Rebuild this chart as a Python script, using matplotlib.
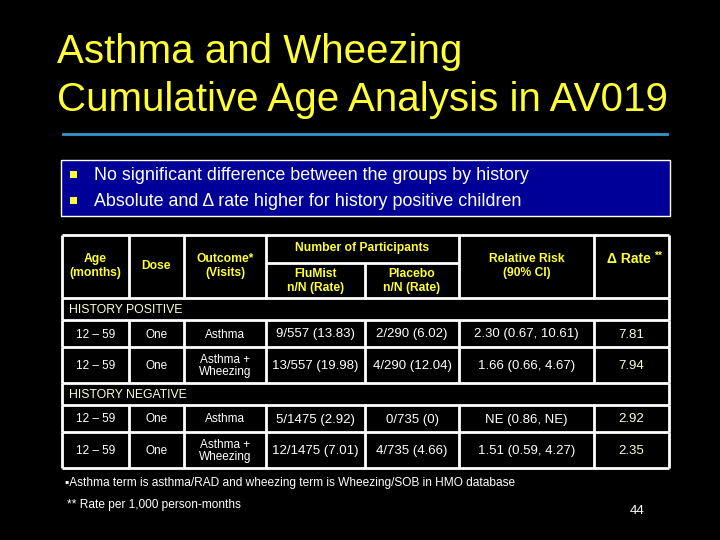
import matplotlib.pyplot as plt
from matplotlib.patches import Rectangle

plt.rcParams['font.family'] = ['Liberation Sans', 'DejaVu Sans']

title_lines = ["Asthma and Wheezing", "Cumulative Age Analysis in AV019"]
bullets = ["No significant difference between the groups by history",
           "Absolute and \u0394 rate higher for history positive children"]

groups = ["HISTORY POSITIVE", "HISTORY NEGATIVE"]
age = ["12 \u2013 59", "12 \u2013 59", "12 \u2013 59", "12 \u2013 59"]
dose = ["One", "One", "One", "One"]
outcome = ["Asthma", "Asthma +\nWheezing", "Asthma", "Asthma +\nWheezing"]
flumist = ["9/557 (13.83)", "13/557 (19.98)", "5/1475 (2.92)", "12/1475 (7.01)"]
placebo = ["2/290 (6.02)", "4/290 (12.04)", "0/735 (0)", "4/735 (4.66)"]
rel_risk = ["2.30 (0.67, 10.61)", "1.66 (0.66, 4.67)", "NE (0.86, NE)", "1.51 (0.59, 4.27)"]
delta_rate = ["7.81", "7.94", "2.92", "2.35"]

footnotes = ["\u25aaAsthma term is asthma/RAD and wheezing term is Wheezing/SOB in HMO database",
             "** Rate per 1,000 person-months"]
page_no = "44"

YEL = "#ffff33"
PALE = "#ffffcc"

fig = plt.figure(figsize=(7.2, 5.4), dpi=100, facecolor="black")
ax = fig.add_axes([0, 0, 1, 1])
ax.set_xlim(0, 720)
ax.set_ylim(540, 0)
ax.axis("off")
ax.set_facecolor("black")

# title
ax.text(57, 52, title_lines[0], color=YEL, fontsize=29, va="center", ha="left")
ax.text(57, 100, title_lines[1], color=YEL, fontsize=29, va="center", ha="left")
ax.plot([63, 667], [134, 134], color="#3399cc", lw=2)

# bullet box
ax.add_patch(Rectangle((61, 160), 609, 56, facecolor="#000099", edgecolor="white", lw=1))
for i, b in enumerate(bullets):
    y = 175 + i * 26
    ax.add_patch(Rectangle((70, y - 4), 7, 7, facecolor=YEL, edgecolor="none"))
    ax.text(94, y, b, color="white", fontsize=12.9, va="center", ha="left")

# table layout
cols = [62, 129, 184, 266, 365, 459, 594, 669]
top, sub, hdr = 235, 263, 298
rows = [(320, 347), (347, 383), (405, 432), (432, 468)]
group_rows = [(298, 320), (383, 405)]
lw = 2

def hline(y, x0=cols[0], x1=cols[-1]):
    ax.plot([x0, x1], [y, y], color="white", lw=lw, solid_capstyle="butt")

def vline(x, y0, y1):
    ax.plot([x, x], [y0, y1], color="white", lw=lw, solid_capstyle="butt")

hline(top)
hline(hdr)
hline(sub, cols[3], cols[5])
for x in cols:
    vline(x, sub if x == cols[4] else top, hdr)
for g0, g1 in group_rows:
    hline(g1)
    vline(cols[0], g0, g1)
    vline(cols[-1], g0, g1)
for r0, r1 in rows:
    hline(r1)
    for x in cols:
        vline(x, r0, r1)

def mid(i):
    return (cols[i] + cols[i + 1]) / 2

hkw = dict(color=YEL, fontsize=8.7, fontweight="bold", ha="center", va="center", linespacing=1.25)
ax.text(mid(0), 266, "Age\n(months)", **hkw)
ax.text(mid(1), 266, "Dose", **hkw)
ax.text(mid(2), 266, "Outcome*\n(Visits)", **hkw)
ax.text((cols[3] + cols[5]) / 2, 248, "Number of Participants", **hkw)
ax.text(mid(3), 281, "FluMist\nn/N (Rate)", **hkw)
ax.text(mid(4), 281, "Placebo\nn/N (Rate)", **hkw)
ax.text(mid(5), 266, "Relative Risk\n(90% CI)", **hkw)
ax.text(mid(6) - 3, 259, "\u0394 Rate", color=YEL, fontsize=10, fontweight="bold", ha="center", va="center")
ax.text(mid(6) + 27, 256, "**", color=YEL, fontsize=7.5, fontweight="bold", ha="center", va="center")

for (g0, g1), g in zip(group_rows, groups):
    ax.text(cols[0] + 7, (g0 + g1) / 2 + 1, g, color=PALE, fontsize=8.8, ha="left", va="center")

bkw = dict(color="white", ha="center", va="center", linespacing=1.1)
for i, (r0, r1) in enumerate(rows):
    y = (r0 + r1) / 2 + 1
    ax.text(mid(0), y, age[i], fontsize=8.5, **bkw)
    ax.text(mid(1), y, dose[i], fontsize=8.5, **bkw)
    ax.text(mid(2), y, outcome[i], fontsize=8.5, **bkw)
    ax.text(mid(3), y, flumist[i], fontsize=9.5, **bkw)
    ax.text(mid(4), y, placebo[i], fontsize=9.5, **bkw)
    ax.text(mid(5), y, rel_risk[i], fontsize=9.5, **bkw)
    ax.text(mid(6), y, delta_rate[i], fontsize=9.5, color=PALE, ha="center", va="center")

ax.text(65, 483, footnotes[0], color="white", fontsize=8.6, ha="left", va="center")
ax.text(67, 505, footnotes[1], color="white", fontsize=8.6, ha="left", va="center")
ax.text(637, 511, page_no, color="white", fontsize=9.5, ha="center", va="center")

fig.savefig("out.png", dpi=100, facecolor="black")
